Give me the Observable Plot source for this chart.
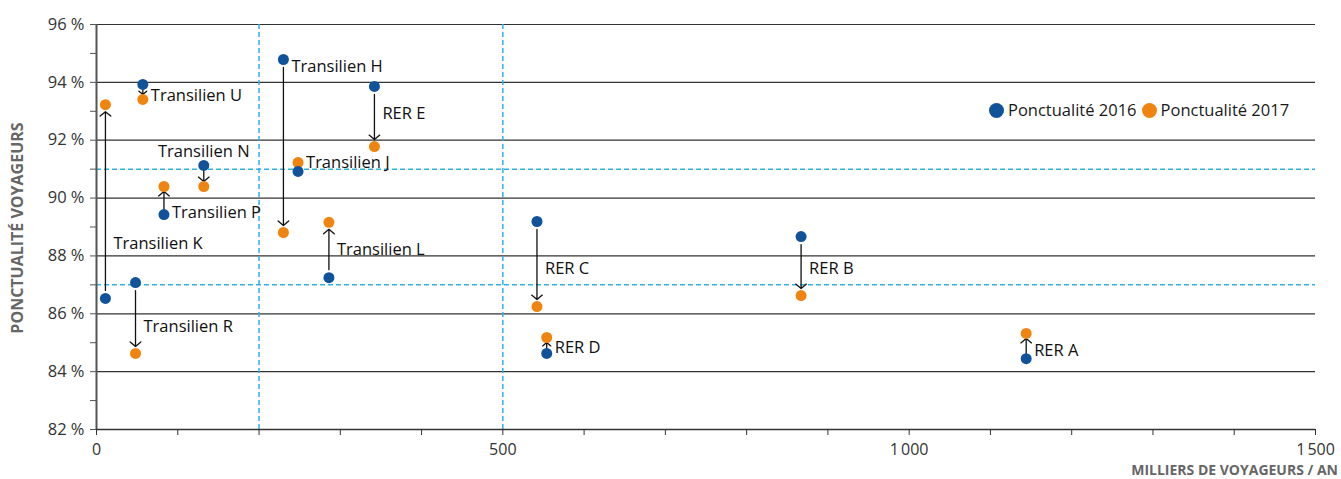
<!DOCTYPE html>
<html><head><meta charset="utf-8">
<script src="https://cdn.jsdelivr.net/npm/d3@7"></script>
<script src="https://cdn.jsdelivr.net/npm/@observablehq/plot@0.6"></script>
<style>
body{margin:0;background:#fff;font-family:"Open Sans",sans-serif}
#wrap{position:relative;width:1341px;height:479px;overflow:hidden}
#wrap svg{display:block}
.legend{position:absolute;left:989px;top:100px;font-size:16.5px;display:flex;align-items:center;color:#1a1a1a;white-space:nowrap;line-height:20px}
.sw{display:inline-block;width:15px;height:15px;border-radius:50%;margin-right:4px}
.item{display:flex;align-items:center;margin-right:5px}
</style></head><body><div id="wrap"></div>
<script>
// ---- data ----
const lines     = ["Transilien K","Transilien U","Transilien R","Transilien P","Transilien N","Transilien H","Transilien J","Transilien L","RER E","RER C","RER D","RER B","RER A"];
const voyageurs = [11, 57, 48, 83, 132, 230, 248, 286, 342, 542, 554, 867, 1144];
const ponct2016 = [86.53, 93.93, 87.08, 89.43, 91.13, 94.79, 90.92, 87.25, 93.86, 89.19, 84.63, 88.67, 84.45];
const ponct2017 = [93.23, 93.41, 84.63, 90.40, 90.40, 88.81, 91.23, 89.16, 91.78, 86.25, 85.18, 86.63, 85.32];
const yTicks = [82, 84, 86, 88, 90, 92, 94, 96];
const yMinor = [83, 85, 87, 89, 91, 93, 95];
const xTicks = [0, 500, 1000, 1500];
const xMinor = [100, 200, 300, 400, 600, 700, 800, 900, 1100, 1200, 1300, 1400];
const seuilsX = [200, 500];
const seuilsY = [87, 91];
const seriesNames = ["Ponctualité 2016", "Ponctualité 2017"];
const yTitle = "PONCTUALITÉ VOYAGEURS";
const xTitle = "MILLIERS DE VOYAGEURS / AN";
// label placement (layout): side and fraction along the 2016->2017 segment
const labelSide = ["right","right","right","right","above","right","right","right","right","right","right","right","right"];
const labelT    = [0.28, 0.73, 0.62, 0.07, 0, 0.04, 1, 0.51, 0.45, 0.55, 0.375, 0.54, 0.32];

const blue = "#11539a", orange = "#ef8510", dash = "#33b1e6";
const font = "'Open Sans', sans-serif";
const rows = lines.map((name, i) => ({
  name, v: voyageurs[i], p16: ponct2016[i], p17: ponct2017[i],
  side: labelSide[i], ly: ponct2016[i] + labelT[i] * (ponct2017[i] - ponct2016[i])
}));
const arrowsLong = rows.filter(d => Math.abs(d.p17 - d.p16) >= 1);
const arrowsShort = rows.filter(d => Math.abs(d.p17 - d.p16) > 0.4 && Math.abs(d.p17 - d.p16) < 1);
const fmtX = d => d3.format(",")(d).replace(",", "\u202f");

const chart = Plot.plot({
  width: 1341, height: 479,
  marginLeft: 96, marginRight: 26, marginTop: 24, marginBottom: 50,
  style: {fontFamily: font, fontSize: "16.5px", color: "#333", background: "#fff"},
  x: {domain: [0, 1500]},
  y: {domain: [82, 96]},
  marks: [
    Plot.ruleY(yTicks.filter(d => d > 82), {stroke: "#333", strokeWidth: 1.2}),
    Plot.ruleY(seuilsY, {stroke: dash, strokeWidth: 1.5, strokeDasharray: "5,3"}),
    Plot.ruleX(seuilsX, {stroke: dash, strokeWidth: 1.5, strokeDasharray: "5,3"}),
    Plot.axisY(yTicks, {tickFormat: d => `${d} %`, tickSize: 6, tickPadding: 6, stroke: "#555", fill: "#333", label: null}),
    Plot.axisY(yMinor, {tickFormat: () => "", tickSize: 6, stroke: "#555", label: null}),
    Plot.axisX(xTicks, {tickFormat: fmtX, tickSize: 6, tickPadding: 8, fontSize: 16, stroke: "#333", fill: "#333", label: null}),
    Plot.axisX(xMinor, {tickFormat: () => "", tickSize: 6, stroke: "#333", label: null}),
    Plot.ruleX([0], {stroke: "#555", strokeWidth: 2}),
    Plot.ruleY([82], {stroke: "#333", strokeWidth: 1.5}),
    Plot.arrow(arrowsLong, {x1: "v", y1: "p16", x2: "v", y2: "p17", insetStart: 8, insetEnd: 7, headLength: 8, headAngle: 100, stroke: "#111", strokeWidth: 1.3}),
    Plot.arrow(arrowsShort, {x1: "v", y1: "p16", x2: "v", y2: "p17", insetStart: 5, insetEnd: 5, headLength: 8, headAngle: 100, stroke: "#111", strokeWidth: 1.3}),
    Plot.dot(rows, {x: "v", y: "p17", r: 5.5, fill: orange}),
    Plot.dot(rows, {x: "v", y: "p16", r: 5.5, fill: blue}),
    Plot.text(rows.filter(d => d.side === "right"), {x: "v", y: "ly", text: "name", textAnchor: "start", dx: 8, fontSize: 16.5, fill: "#111"}),
    Plot.text(rows.filter(d => d.side === "above"), {x: "v", y: "p16", text: "name", textAnchor: "middle", dy: -14, fontSize: 16.5, fill: "#111"})
  ]
});
const svg = d3.select(chart);
svg.append("text").attr("transform", "translate(17,228) rotate(-90)")
  .attr("text-anchor", "middle").attr("dominant-baseline", "central")
  .attr("font-family", font).attr("font-weight", 700).attr("font-size", 16).attr("fill", "#666")
  .text(yTitle);
svg.append("text").attr("x", 1338).attr("y", 475)
  .attr("text-anchor", "end")
  .attr("font-family", font).attr("font-weight", 700).attr("font-size", 14).attr("fill", "#666")
  .text(xTitle);
const wrap = document.getElementById("wrap");
wrap.appendChild(chart);

const legend = document.createElement("div");
legend.className = "legend";
[blue, orange].forEach((c, i) => {
  const it = document.createElement("span"); it.className = "item";
  const sw = document.createElement("span"); sw.className = "sw"; sw.style.background = c;
  it.appendChild(sw); it.appendChild(document.createTextNode(seriesNames[i]));
  legend.appendChild(it);
});
wrap.appendChild(legend);
</script></body></html>
